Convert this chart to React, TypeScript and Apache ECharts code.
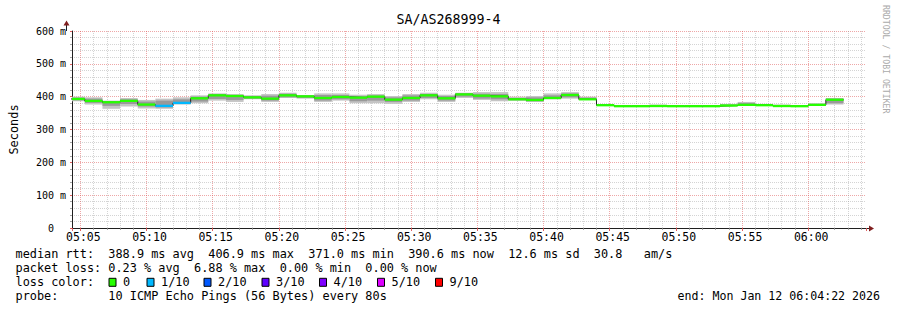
import React, { useEffect, useRef } from "react";
import * as echarts from "echarts";

const MONO = '"DejaVu Sans Mono", monospace';

const chartTitle = "SA/AS268999-4";
const yAxisTitle = "Seconds";
const watermarkText = "RRDTOOL / TOBI OETIKER";

const axisStartTime = "05:04:22";
const axisEndTime = "06:04:22";
const firstStepTime = "05:04:00";
const stepSeconds = 80;

// median rtt per 80 s step (ms)
const medianMs = [
  393, 387, 383, 387, 376, 372, 381, 395, 404, 402,
  398, 394, 404, 401, 396, 399, 397, 400, 391, 396,
  404, 395, 406.9, 403, 401, 392, 390, 396, 405, 392,
  374, 371, 371, 371.5, 371, 371, 371, 373, 375, 374,
  371.5, 371, 375, 390.6,
];
// lost pings out of 10 per step
const lossTenths = [
  0, 0, 0, 0, 0, 1, 1, 0, 0, 0,
  0, 0, 0, 0, 0, 0, 0, 0, 0, 0,
  0, 0, 0, 0, 0, 0, 0, 0, 0, 0,
  0, 0, 0, 0, 0, 0, 0, 0, 0, 0,
  0, 0, 0, 0,
];
// smoke: full ping spread
const smokeLowMs = [
  386, 376, 363, 370, 364, 363, 376, 380, 388, 384,
  392, 384, 396, 394, 384, 388, 380, 380, 378, 384,
  392, 384, 396, 390, 386, 388, 384, 392, 394, 390,
  372, 370, 370, 370, 370, 370, 370, 372, 372, 372,
  370, 370, 372, 376,
];
const smokeHighMs = [
  400, 398, 388, 396, 390, 394, 398, 404, 410, 408,
  404, 408, 412, 404, 410, 410, 406, 408, 402, 408,
  412, 406, 412, 414, 414, 400, 402, 410, 414, 400,
  377, 373, 373, 376, 373, 373, 373, 378, 384, 378,
  376, 373, 380, 396,
];
// smoke: inner ping spread
const coreLowMs = [
  389, 381, 372, 378, 370, 367, 378, 385, 393, 390,
  394, 388, 398, 396, 388, 392, 386, 388, 384, 388,
  396, 388, 400, 394, 392, 389, 386, 394, 398, 390,
  373, 370, 370, 370, 370, 370, 370, 372, 373, 372,
  370, 370, 373, 380,
];
const coreHighMs = [
  397, 394, 386, 392, 385, 388, 392, 400, 407, 405,
  401, 403, 409, 403, 405, 405, 402, 404, 398, 404,
  408, 402, 410, 409, 408, 396, 398, 404, 410, 397,
  376, 372, 372, 374, 372, 372, 372, 376, 381, 376,
  374, 372, 378, 394,
];

const medianStats = ["388.9 ms avg", "406.9 ms max", "371.0 ms min", "390.6 ms now", "12.6 ms sd", "30.8   am/s"];
const lossStats = ["0.23 % avg", "6.88 % max", "0.00 % min", "0.00 % now"];
const lossLabels = ["0", "1/10", "2/10", "3/10", "4/10", "5/10", "9/10"];
const lossColors = ["#26ff00", "#00b8ff", "#0059ff", "#5e00ff", "#7e00ff", "#dd00ff", "#ff0000"];
const probeText = "10 ICMP Echo Pings (56 Bytes) every 80s";
const endText = "end: Mon Jan 12 06:04:22 2026";

// layout (not data)
const swatchX = [109, 147, 204, 262, 319.5, 377.5, 435.5];
const LEG_X0 = 15.5;
const LEG_CW = 7.14;
const LEG_FS = 11.86;
const BAND = 3.5;

const toSec = (s: string) => {
  const [h, m, x] = s.split(":").map(Number);
  return h * 3600 + m * 60 + x;
};
const pad = (n: number) => String(n).padStart(2, "0");

const lossColorFor = (t: number) => lossColors[Math.min(t, 6)];

function tokens(line: string, y: number) {
  const out: any[] = [];
  const re = /\S+(?: \S+)*/g;
  let m: RegExpExecArray | null;
  while ((m = re.exec(line))) {
    out.push({
      type: "text",
      x: LEG_X0 + m.index * LEG_CW,
      y,
      style: { text: m[0], fontFamily: MONO, fontSize: LEG_FS, fill: "#000", align: "left", verticalAlign: "middle" },
    });
  }
  return out;
}

export default function App() {
  const ref = useRef<HTMLDivElement>(null);
  useEffect(() => {
    const chart = echarts.init(ref.current!, null, { renderer: "svg", width: 897, height: 310 });
    const t0 = toSec(firstStepTime);
    const xMin = toSec(axisStartTime);
    const xMax = toSec(axisEndTime);
    const starts = medianMs.map((_, i) => t0 + i * stepSeconds);
    const smokeRows = medianMs.map((_, i) => [starts[i], starts[i] + stepSeconds, smokeLowMs[i], smokeHighMs[i], coreLowMs[i], coreHighMs[i]]);
    const bandRows = medianMs.map((m, i) => [starts[i], starts[i] + stepSeconds, m, lossTenths[i]]);
    const lineData = medianMs.map((m, i) => [starts[i], m]);
    lineData.push([starts[starts.length - 1] + stepSeconds, medianMs[medianMs.length - 1]]);

    const minorGrid = "rgba(143,143,143,0.38)";
    const majorGrid = "rgba(222,79,79,0.5)";

    const legendY = [254.3, 268.3, 282.3, 296.3];
    const graphics: any[] = [
      { type: "text", x: 448.5, y: 19, style: { text: chartTitle, fontFamily: MONO, fontSize: 13.3, fill: "#000", align: "center", verticalAlign: "middle" } },
      { type: "text", x: 886, y: 5, rotation: -Math.PI / 2, style: { text: watermarkText, fontFamily: MONO, fontSize: 8.2, fill: "#aaaaaa", align: "left", verticalAlign: "middle" } },
      { type: "line", shape: { x1: 66.5, y1: 31, x2: 66.5, y2: 25 }, style: { stroke: "#1f1f1f", lineWidth: 1 } },
      { type: "polygon", shape: { points: [[66.5, 20.5], [63.5, 25.5], [69.5, 25.5]] }, style: { fill: "#801f1f" } },
      { type: "line", shape: { x1: 866, y1: 228.5, x2: 869, y2: 228.5 }, style: { stroke: "#1f1f1f", lineWidth: 1 } },
      { type: "polygon", shape: { points: [[874, 228.5], [869, 225.5], [869, 231.5]] }, style: { fill: "#801f1f" } },
      ...tokens("median rtt:  " + medianStats.join("  "), legendY[0]),
      ...tokens("packet loss: " + lossStats.join("  "), legendY[1]),
      ...tokens("loss color:", legendY[2]),
      ...tokens("probe:       " + probeText, legendY[3]),
      { type: "text", x: 880, y: legendY[3], style: { text: endText, fontFamily: MONO, fontSize: 11.6, fill: "#000", align: "right", verticalAlign: "middle" } },
    ];
    lossLabels.forEach((lab, i) => {
      graphics.push({ type: "rect", shape: { x: swatchX[i], y: legendY[2] - 4, width: 7, height: 8 }, style: { fill: lossColors[i], stroke: "#000", lineWidth: 1 } });
      graphics.push({ type: "text", x: swatchX[i] + 14, y: legendY[2], style: { text: lab, fontFamily: MONO, fontSize: LEG_FS, fill: "#000", align: "left", verticalAlign: "middle" } });
    });

    const option: any = {
      animation: false,
      backgroundColor: "#ffffff",
      grid: { left: 66, top: 31, width: 800, height: 197, containLabel: false },
      xAxis: {
        type: "value",
        min: xMin,
        max: xMax,
        minInterval: 300,
        maxInterval: 300,
        axisLine: { show: true, lineStyle: { color: "#1f1f1f", width: 1 } },
        axisTick: { show: true, length: 3, lineStyle: { color: "rgba(222,79,79,0.9)" } },
        minorTick: { show: true, splitNumber: 5, length: 2, lineStyle: { color: "rgba(143,143,143,0.8)" } },
        axisLabel: {
          showMinLabel: false,
          showMaxLabel: false,
          margin: 3,
          padding: [0, 0, 0, 6],
          fontFamily: MONO,
          fontSize: 11.5,
          color: "#000",
          formatter: (v: number) => `${pad(Math.floor(v / 3600))}:${pad(Math.floor((v % 3600) / 60))}`,
        },
        splitLine: { show: true, showMinLine: false, showMaxLine: false, lineStyle: { color: majorGrid, width: 1, type: [1, 1] } },
        minorSplitLine: { show: true, lineStyle: { color: minorGrid, width: 1, type: [1, 1] } },
      },
      yAxis: {
        type: "value",
        min: 0,
        max: 600,
        interval: 100,
        name: yAxisTitle,
        nameLocation: "middle",
        nameRotate: 90,
        nameGap: 52,
        nameTextStyle: { fontFamily: MONO, fontSize: 11.9, color: "#000" },
        axisLine: { show: true, lineStyle: { color: "#1f1f1f", width: 1 } },
        axisTick: { show: true, length: 2, lineStyle: { color: "rgba(222,79,79,0.9)" } },
        minorTick: { show: true, splitNumber: 5, length: 2, lineStyle: { color: "rgba(143,143,143,0.8)" } },
        axisLabel: {
          margin: 6,
          fontFamily: MONO,
          fontSize: 10,
          color: "#000",
          formatter: (v: number) => (v === 0 ? "{z|0}" : `${v} m`),
          rich: { z: { fontFamily: MONO, fontSize: 10, color: "#000", padding: [0, 12, 0, 0] } },
        },
        splitLine: { show: true, showMinLine: false, lineStyle: { color: majorGrid, width: 1, type: [1, 1] } },
        minorSplitLine: { show: true, lineStyle: { color: minorGrid, width: 1, type: [1, 1] } },
      },
      graphic: graphics,
      series: [
        {
          type: "custom",
          name: "smoke",
          clip: true,
          z: 2,
          data: smokeRows,
          encode: { x: [0, 1], y: [2, 3] },
          renderItem: (_p: any, api: any) => {
            const a = api.coord([api.value(0), api.value(3)]);
            const b = api.coord([api.value(1), api.value(2)]);
            const c = api.coord([api.value(0), api.value(5)]);
            const d = api.coord([api.value(1), api.value(4)]);
            return {
              type: "group",
              children: [
                { type: "rect", shape: { x: a[0], y: a[1], width: b[0] - a[0], height: b[1] - a[1] }, style: { fill: "#c4c4c4" } },
                { type: "rect", shape: { x: c[0], y: c[1], width: d[0] - c[0], height: d[1] - c[1] }, style: { fill: "#999999" } },
              ],
            };
          },
        },
        {
          type: "line",
          name: "median",
          step: "end",
          z: 3,
          showSymbol: false,
          symbol: "none",
          data: lineData,
          lineStyle: { color: "#202020", width: 1 },
        },
        {
          type: "custom",
          name: "median loss band",
          clip: true,
          z: 4,
          data: bandRows,
          encode: { x: [0, 1], y: 2 },
          renderItem: (_p: any, api: any) => {
            const m = api.value(2);
            const a = api.coord([api.value(0), m + BAND]);
            const b = api.coord([api.value(1), m - BAND]);
            return {
              type: "rect",
              shape: { x: a[0], y: a[1], width: b[0] - a[0], height: b[1] - a[1] },
              style: { fill: lossColorFor(api.value(3)) },
            };
          },
        },
      ],
    };
    chart.setOption(option);
    return () => chart.dispose();
  }, []);
  return <div ref={ref} style={{ position: "fixed", left: 0, top: 0, width: 897, height: 310, background: "#fff" }} />;
}
